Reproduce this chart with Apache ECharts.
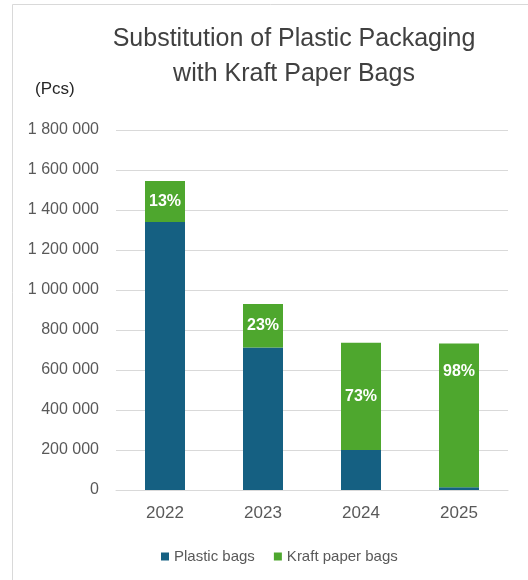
<!DOCTYPE html>
<html>
<head>
  <meta charset="utf-8" />
  <title>Substitution of Plastic Packaging</title>
  <style>
    html, body { margin: 0; padding: 0; background: #fff; }
    #chartBox { width: 528px; height: 580px; }
  </style>
</head>
<body>
  <div id="chartBox"></div>
  <script src="https://cdn.jsdelivr.net/npm/echarts@6/dist/echarts.min.js"></script>
  <script>
    var years = ['2022', '2023', '2024', '2025'];
    var plasticBags = [1340000, 712000, 200000, 14000];
    var kraftBags = [205000, 218000, 536000, 718000];
    var colors = ['#156082', '#4ea72e'];
    var _font = 'Liberation Sans';

    // share of kraft bags in each year's total
    function kraftShare(i) {
      return Math.round(kraftBags[i] / (kraftBags[i] + plasticBags[i]) * 100) + '%';
    }

    function spaced(v) {
      return String(v).replace(/\B(?=(\d{3})+(?!\d))/g, ' ');
    }

    // last label sits higher in the tall segment
    var kraftData = kraftBags.map(function (v, i) {
      return i === 3 ? { value: v, label: { offset: [0, -44] } } : v;
    });

    var myChart = echarts.init(document.getElementById('chartBox'));
    var option = {
      color: colors,
      animation: false,
      title: {
        text: 'Substitution of Plastic Packaging\nwith Kraft Paper Bags',
        left: 289,
        top: 17,
        textAlign: 'center',
        textStyle: {
          fontFamily: _font,
          fontSize: 25,
          fontWeight: 'normal',
          color: '#404040',
          lineHeight: 35
        }
      },
      graphic: [
        {
          type: 'rect',
          left: 10, top: 2,
          shape: { width: 540, height: 600 },
          style: { fill: 'none', stroke: '#d9d9d9', lineWidth: 1 },
          silent: true
        },
        {
          type: 'text',
          left: 35, top: 81,
          style: { text: '(Pcs)', fontFamily: _font, fontSize: 17, fill: '#262626' }
        }
      ],
      legend: {
        top: 544,
        left: 156,
        itemWidth: 8,
        itemHeight: 8,
        itemGap: 19,
        icon: 'rect',
        textStyle: { fontFamily: _font, fontSize: 15, color: '#595959' },
        data: ['Plastic bags', 'Kraft paper bags']
      },
      grid: { left: 116, right: 20, top: 130, bottom: 90 },
      xAxis: {
        type: 'category',
        data: years,
        axisLine: { lineStyle: { color: '#d9d9d9', width: 1 } },
        axisTick: { show: false },
        axisLabel: { fontFamily: _font, fontSize: 17, color: '#595959', margin: 15 }
      },
      yAxis: {
        type: 'value',
        min: 0,
        max: 1800000,
        interval: 200000,
        axisLine: { show: false },
        axisTick: { show: false },
        splitLine: { lineStyle: { color: '#d9d9d9', width: 1 } },
        axisLabel: {
          fontFamily: _font, fontSize: 16, color: '#595959', margin: 17,
          formatter: spaced
        }
      },
      series: [
        {
          name: 'Plastic bags',
          type: 'bar',
          stack: 'total',
          barWidth: 40,
          data: plasticBags
        },
        {
          name: 'Kraft paper bags',
          type: 'bar',
          stack: 'total',
          barWidth: 40,
          data: kraftData,
          label: {
            show: true,
            position: 'inside',
            color: '#fff',
            fontFamily: _font,
            fontSize: 16,
            fontWeight: 'bold',
            formatter: function (p) { return kraftShare(p.dataIndex); }
          }
        }
      ]
    };
    myChart.setOption(option);
  </script>
</body>
</html>
